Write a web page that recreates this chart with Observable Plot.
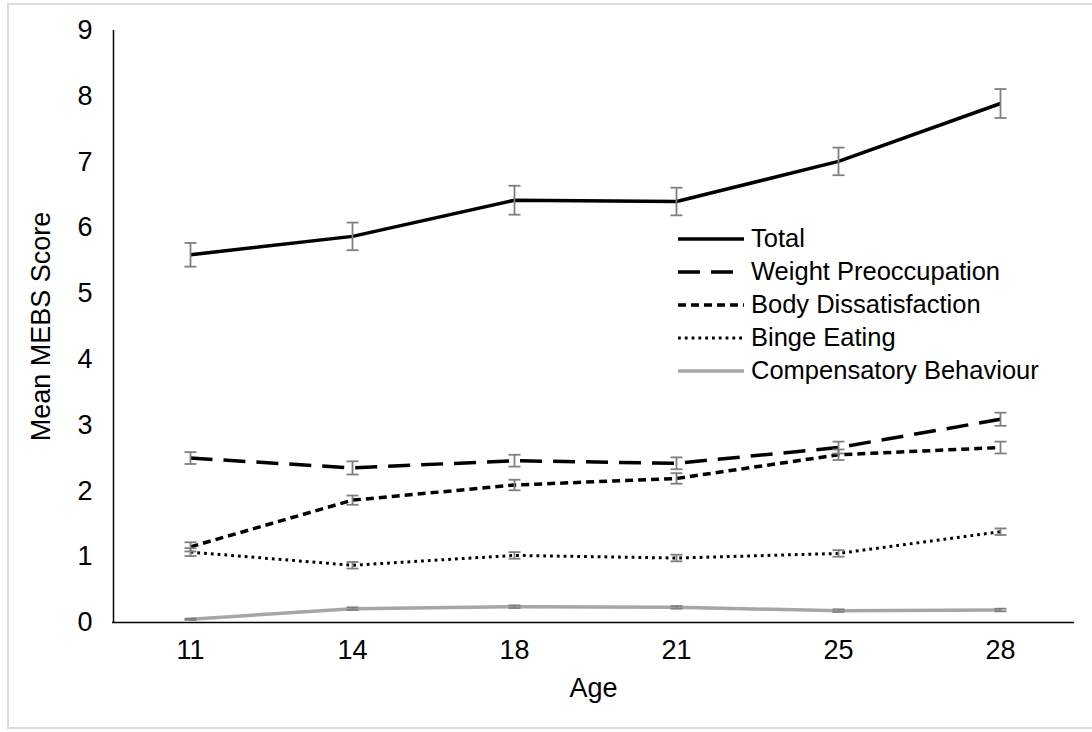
<!DOCTYPE html>
<html>
<head>
<meta charset="utf-8">
<script src="https://cdn.jsdelivr.net/npm/d3@7"></script>
<script src="https://cdn.jsdelivr.net/npm/@observablehq/plot@0.6"></script>
<style>
  html, body { margin: 0; padding: 0; background: #fff; overflow: hidden; width: 1092px; height: 732px; }
  #wrap { position: relative; width: 1092px; height: 732px; font-family: "Liberation Sans", Arial, Helvetica, sans-serif; }
  #border { position: absolute; left: 7px; top: 3px; width: 1100px; height: 726px; border: 2px solid #dcdcdc; box-sizing: border-box; pointer-events: none; }
  #chart { position: absolute; left: 0; top: 0; }
  #legend { position: absolute; left: 678px; top: 222px; font-size: 25.5px; color: #000; }
  .row { display: flex; align-items: center; height: 33px; }
  .row svg { width: 68px; height: 20px; margin-right: 5px; }
</style>
</head>
<body>
<div id="wrap">
  <div id="chart"></div>
  <div id="legend"></div>
  <div id="border"></div>
</div>
<script>
const ages = ["11", "14", "18", "21", "25", "28"];
const seriesNames = ["Total", "Weight Preoccupation", "Body Dissatisfaction", "Binge Eating", "Compensatory Behaviour"];
const total      = [5.59, 5.87, 6.42, 6.40, 7.01, 7.89];
const totalErr   = [0.18, 0.21, 0.22, 0.21, 0.21, 0.22];
const weightPre  = [2.50, 2.35, 2.46, 2.42, 2.66, 3.09];
const weightErr  = [0.09, 0.10, 0.09, 0.09, 0.09, 0.10];
const bodyDis    = [1.15, 1.86, 2.09, 2.19, 2.55, 2.66];
const bodyErr    = [0.07, 0.07, 0.08, 0.08, 0.08, 0.09];
const binge      = [1.07, 0.87, 1.02, 0.98, 1.05, 1.38];
const bingeErr   = [0.06, 0.05, 0.05, 0.05, 0.05, 0.05];
const comp       = [0.05, 0.21, 0.24, 0.23, 0.18, 0.19];
const compErr    = [0.01, 0.02, 0.02, 0.02, 0.02, 0.02];
const yTicks = [0, 1, 2, 3, 4, 5, 6, 7, 8, 9];

const values = [total, weightPre, bodyDis, binge, comp];
const errors = [totalErr, weightErr, bodyErr, bingeErr, compErr];

const styles = {
  "Total": {stroke: "#000", strokeWidth: 3.5, dash: null},
  "Weight Preoccupation": {stroke: "#000", strokeWidth: 3.5, dash: "22,11"},
  "Body Dissatisfaction": {stroke: "#000", strokeWidth: 3.5, dash: "8,5"},
  "Binge Eating": {stroke: "#000", strokeWidth: 3, dash: "2.8,4"},
  "Compensatory Behaviour": {stroke: "#a6a6a6", strokeWidth: 3.5, dash: null}
};

const rows = [];
seriesNames.forEach((s, si) => {
  ages.forEach((a, i) => {
    rows.push({series: s, age: a, value: values[si][i], lo: values[si][i] - errors[si][i], hi: values[si][i] + errors[si][i]});
  });
});

const capSymbol = {
  draw(context, size) {
    const r = Math.sqrt(size / Math.PI);
    context.moveTo(-r, 0);
    context.lineTo(r, 0);
  }
};

const marks = [];
seriesNames.forEach(s => {
  const st = styles[s];
  marks.push(Plot.line(rows.filter(d => d.series === s), {
    x: "age", y: "value", stroke: st.stroke, strokeWidth: st.strokeWidth,
    strokeDasharray: st.dash, strokeLinecap: "butt", strokeLinejoin: "round"
  }));
});
marks.push(Plot.ruleX(rows, {x: "age", y1: "lo", y2: "hi", stroke: "#7f7f7f", strokeWidth: 1.8}));
marks.push(Plot.dot(rows, {x: "age", y: "lo", symbol: capSymbol, r: 6, stroke: "#7f7f7f", strokeWidth: 1.8, fill: "none"}));
marks.push(Plot.dot(rows, {x: "age", y: "hi", symbol: capSymbol, r: 6, stroke: "#7f7f7f", strokeWidth: 1.8, fill: "none"}));
marks.push(Plot.ruleY([0], {stroke: "#000", strokeWidth: 1.5}));
marks.push(Plot.ruleX([ages[0]], {y1: 0, y2: 9, dx: -77, stroke: "#000", strokeWidth: 1.5}));
marks.push(Plot.axisX({tickSize: 0, tickPadding: 17, label: "Age", labelAnchor: "center", labelOffset: 74, fontSize: 27}));
marks.push(Plot.axisY({ticks: yTicks, tickFormat: d => String(d), tickSize: 0, tickPadding: 20,
  label: "Mean MEBS Score", labelAnchor: "center", labelOffset: 82, labelArrow: "none", fontSize: 27}));

const chart = Plot.plot({
  width: 1092,
  height: 732,
  marginLeft: 112,
  marginRight: 18,
  marginTop: 30,
  marginBottom: 110,
  style: {fontFamily: "Liberation Sans, Arial, sans-serif", fontSize: "27px", color: "#000", background: "transparent"},
  x: {type: "point", domain: ages, range: [189, 1000], padding: 0},
  y: {domain: [0, 9]},
  marks
});
document.getElementById("chart").appendChild(chart);

const legend = document.getElementById("legend");
seriesNames.forEach(s => {
  const st = styles[s];
  const row = document.createElement("div");
  row.className = "row";
  const ns = "http://www.w3.org/2000/svg";
  const svg = document.createElementNS(ns, "svg");
  const ln = document.createElementNS(ns, "line");
  ln.setAttribute("x1", 0); ln.setAttribute("x2", 66);
  ln.setAttribute("y1", 10); ln.setAttribute("y2", 10);
  ln.setAttribute("stroke", st.stroke);
  ln.setAttribute("stroke-width", st.strokeWidth);
  if (st.dash) ln.setAttribute("stroke-dasharray", st.dash);
  svg.appendChild(ln);
  row.appendChild(svg);
  const t = document.createElement("span");
  t.textContent = s;
  row.appendChild(t);
  legend.appendChild(row);
});
</script>
</body>
</html>
